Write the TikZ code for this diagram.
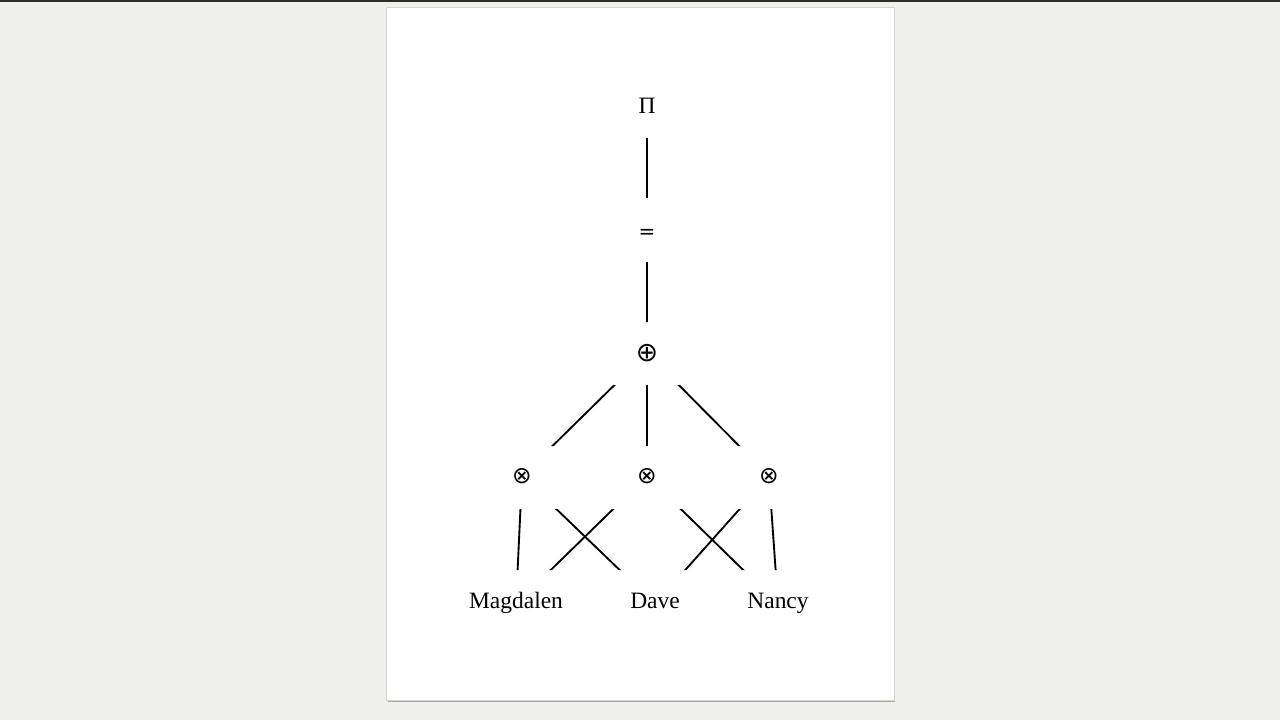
\documentclass[tikz,border=0pt]{standalone}
\usepackage{fontspec}
\setmainfont{Liberation Serif}
\newfontfamily\symfont{DejaVu Sans}
\definecolor{bg}{HTML}{F0F0EC}
\definecolor{topbar}{HTML}{2E2E28}
\definecolor{pageedge}{HTML}{D4D4D0}
\definecolor{shadow}{HTML}{A8A8A4}
\begin{document}
\begin{tikzpicture}[x=0.75pt,y=-0.75pt,
  lbl/.style={inner sep=0pt,font=\fontsize{17.6}{20}\selectfont},
  word/.style={lbl,text height=0.66em,text depth=0pt},
  sym/.style={inner sep=0pt,font=\symfont\fontsize{#1}{22}\selectfont},
  edge/.style={line width=1.4pt,black}]
\useasboundingbox (0,0) rectangle (1280,720);
\fill[bg] (0,0) rectangle (1280,720);
\fill[topbar] (0,0) rectangle (1280,2);
% page with shadow
\fill[shadow] (388,700) rectangle (895,702);
\fill[pageedge] (386,7) rectangle (895,701);
\fill[white] (387,8) rectangle (894,700);
% nodes
\node[word] (pi) at (647,109) {Π};
\node[sym=15] (eq) at (647,234) {=};
\node[sym=20] (plus) at (647,353) {⊕};
\node[sym=17.5] (tl) at (522,476) {⊗};
\node[sym=17.5] (tm) at (647,476) {⊗};
\node[sym=17.5] (tr) at (769,476) {⊗};
\node[word] (mag) at (516,604) {Magdalen};
\node[word] (dave) at (655,604) {Dave};
\node[word] (nancy) at (778,604) {Nancy};
% connectors, clipped to the bands between levels
\begin{scope}
\clip (0,138) rectangle (1280,198)
      (0,262) rectangle (1280,322)
      (0,385) rectangle (1280,446)
      (0,509) rectangle (1280,570);
\draw[edge] (pi.center) -- (eq.center);
\draw[edge] (eq.center) -- (plus.center);
\draw[edge] (plus.center) -- (tl.center);
\draw[edge] (plus.center) -- (tm.center);
\draw[edge] (plus.center) -- (tr.center);
\draw[edge] (tl.center) -- (mag.center);
\draw[edge] (tl.center) -- (dave.center);
\draw[edge] (tm.center) -- (mag.center);
\draw[edge] (tm.center) -- (nancy.center);
\draw[edge] (tr.center) -- (dave.center);
\draw[edge] (tr.center) -- (nancy.center);
\end{scope}
\end{tikzpicture}
\end{document}
